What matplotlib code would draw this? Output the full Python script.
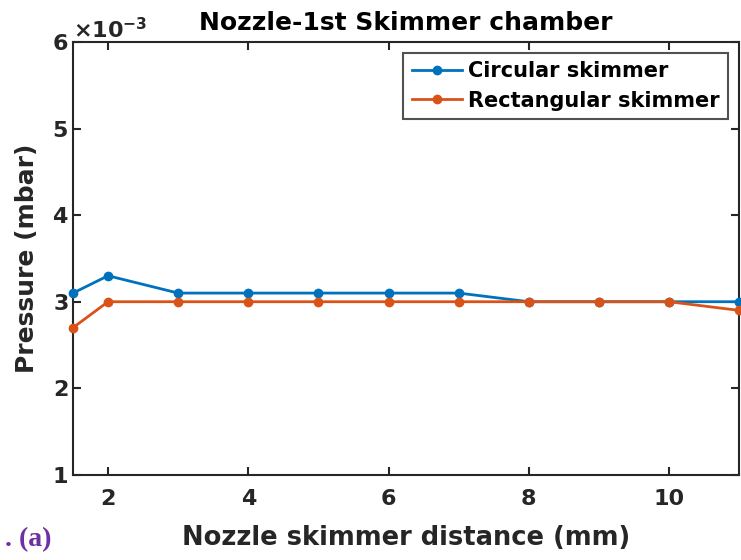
import numpy as np
import matplotlib.pyplot as plt
from matplotlib.ticker import ScalarFormatter

distance = [1.5, 2, 3, 4, 5, 6, 7, 8, 9, 10, 11]
circular = [3.1, 3.3, 3.1, 3.1, 3.1, 3.1, 3.1, 3.0, 3.0, 3.0, 3.0]
rectangular = [2.7, 3.0, 3.0, 3.0, 3.0, 3.0, 3.0, 3.0, 3.0, 3.0, 2.9]
x_ticks = [2, 4, 6, 8, 10]
y_ticks = [1, 2, 3, 4, 5, 6]


def main():
    plt.rcParams['font.family'] = ['DejaVu Sans']
    plt.rcParams['font.weight'] = 'bold'
    plt.rcParams['mathtext.default'] = 'bf'

    fig = plt.figure(figsize=(7.41, 5.6), dpi=100)
    ax = fig.add_axes([0.0985, 0.152, 0.899, 0.773])

    scale = 1e-3
    ax.plot(distance, np.array(circular) * scale, '-o', color='#0072BD',
            lw=2, ms=6, label='Circular skimmer', clip_on=False, zorder=3)
    ax.plot(distance, np.array(rectangular) * scale, '-o', color='#D95319',
            lw=2, ms=6, label='Rectangular skimmer', clip_on=False, zorder=3)

    ax.set_xlim(1.5, 11)
    ax.set_ylim(1e-3, 6e-3)
    ax.set_xticks(x_ticks)
    ax.set_yticks(np.array(y_ticks) * scale)
    fmt = ScalarFormatter(useMathText=True)
    fmt.set_powerlimits((0, 0))
    ax.yaxis.set_major_formatter(fmt)
    off = ax.yaxis.get_offset_text()
    off.set_fontsize(16)

    ax.tick_params(direction='in', length=6, width=1.5, labelsize=16,
                   top=True, right=True, colors='#262626')
    ax.tick_params(axis='x', pad=10)
    for s in ax.spines.values():
        s.set_linewidth(1.5)
        s.set_color('#262626')

    ax.set_title('Nozzle-1st Skimmer chamber', fontsize=18, fontweight='bold',
                 pad=9, color='#000000')
    ax.set_xlabel('Nozzle skimmer distance (mm)', fontsize=18.5,
                  fontweight='bold', labelpad=12, color='#262626')
    ax.set_ylabel('Pressure (mbar)', fontsize=18, fontweight='bold',
                  labelpad=9, color='#262626')

    leg = ax.legend(loc='upper right', fontsize=15, fancybox=False,
                    edgecolor='#262626', borderpad=0.4, labelspacing=0.45,
                    handlelength=2.4, handletextpad=0.3, borderaxespad=0,
                    bbox_to_anchor=(0.983, 0.975))
    leg.get_frame().set_linewidth(1.5)

    fig.text(0.007, 0.036, '. (a)', ha='left', va='center', fontsize=20,
             color='#7030A0', fontweight='bold', family='Liberation Serif')

    fig.savefig('out.png', dpi=100)


if __name__ == "__main__":
    main()
